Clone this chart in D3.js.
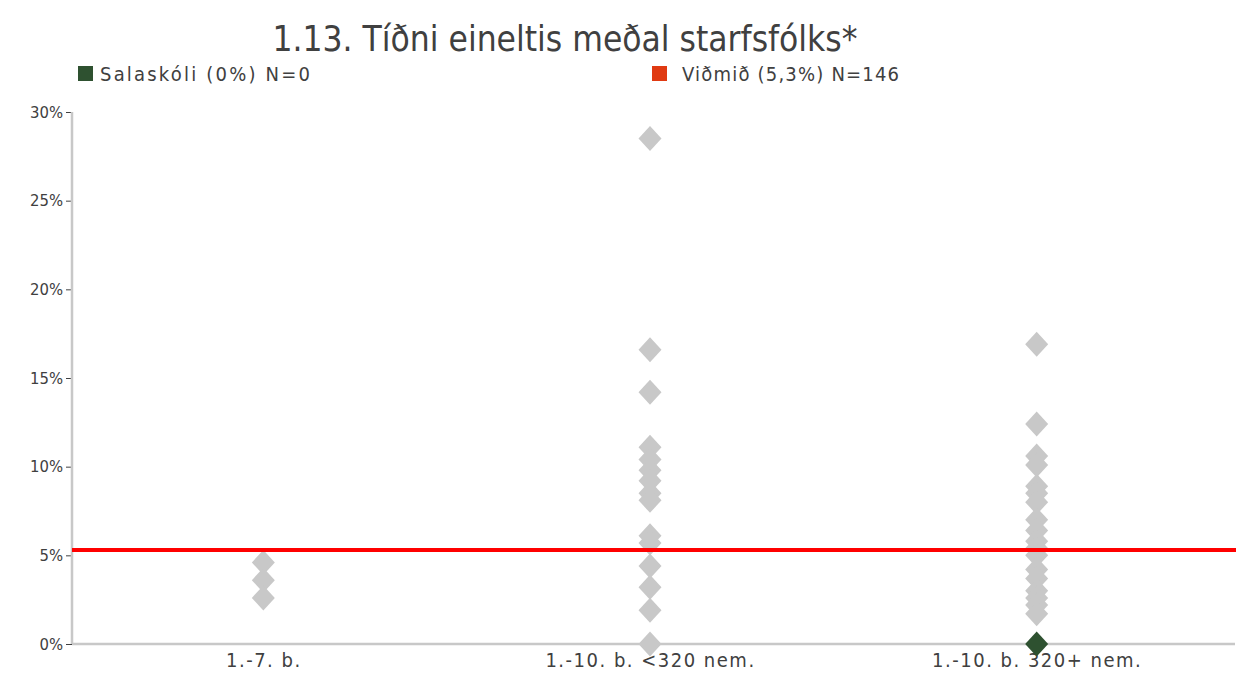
<!DOCTYPE html>
<html><head><meta charset="utf-8">
<script src="https://cdn.jsdelivr.net/npm/d3@7"></script>
<style>
body{margin:0;background:#fff;}
text{font-family:"Liberation Sans Narrow","DejaVu Sans Condensed",Lato,sans-serif;fill:#404040;}
</style></head>
<body><svg id="c" width="1242" height="673"></svg>
<script>
const title = "1.13. Tíðni eineltis meðal starfsfólks*";
const categories = ["1.-7. b.", "1.-10. b. <320 nem.", "1.-10. b. 320+ nem."];
const yTicks = [0, 5, 10, 15, 20, 25, 30];
const schoolsCat1 = [4.6, 3.6, 2.6];
const schoolsCat2 = [28.5, 16.6, 14.2, 11.1, 10.4, 9.8, 9.2, 8.5, 8.1, 6.1, 5.7, 4.4, 3.2, 1.9, 0];
const schoolsCat3 = [16.9, 12.4, 10.6, 10.1, 8.9, 8.5, 8.0, 7.0, 6.4, 5.8, 5.4, 5.0, 4.2, 3.7, 3.0, 2.6, 2.2, 1.7];
const highlightCat = [categories[2]];
const highlightVal = [0];
const benchmark = 5.3;
const legendLabels = ["Salaskóli (0%) N=0", "Viðmið (5,3%) N=146"];
const legendColors = ["#2E5130", "#E03A12"];

const FONT = "'Liberation Sans Narrow','DejaVu Sans Condensed',Lato,sans-serif";
const svg = d3.select("#c");
const x = d3.scalePoint().domain(categories).range([70, 1230]).padding(0.5);
const y = d3.scaleLinear().domain([0, 30]).range([644, 112]);

svg.append("text").attr("x", 565).attr("y", 51).attr("text-anchor", "middle")
  .style("font-size", "35px").text(title);

const lx = [78, 652];
const tx = [100, 682];
const ls = [2.2, 1.2];
legendLabels.forEach((t, i) => {
  svg.append("rect").attr("x", lx[i]).attr("y", 66).attr("width", 15).attr("height", 15).attr("fill", legendColors[i]);
  svg.append("text").attr("x", tx[i]).attr("y", 81).style("font-size", "20px").style("letter-spacing", ls[i] + "px").text(t);
});

// y axis
const yAxis = svg.append("g").attr("transform", "translate(72,0)")
  .call(d3.axisLeft(y).tickValues(yTicks).tickFormat(d => d + "%").tickSize(6).tickPadding(3));
yAxis.select(".domain").remove();
yAxis.selectAll(".tick line").attr("stroke", "#404040");
yAxis.selectAll(".tick text").style("font-size", "16.5px").style("fill", "#404040")
  .style("font-family", FONT);
svg.append("line").attr("x1", 72).attr("x2", 72).attr("y1", y(30)).attr("y2", y(0)).attr("stroke", "#C8C8C8").attr("stroke-width", 2.5);

// x axis
const xAxis = svg.append("g").attr("transform", `translate(0,${y(0)})`)
  .call(d3.axisBottom(x).tickSize(0).tickPadding(9));
xAxis.select(".domain").attr("stroke", "#C8C8C8").attr("stroke-width", 2.5).attr("d", "M72,0H1235");
xAxis.selectAll(".tick text").style("font-size", "20px").style("fill", "#404040")
  .style("font-family", FONT).style("letter-spacing", "1.5px");

const diamond = (cx, cy, w, h) => `M${cx},${cy - h}L${cx + w},${cy}L${cx},${cy + h}L${cx - w},${cy}Z`;

const pts = [];
[schoolsCat1, schoolsCat2, schoolsCat3].forEach((arr, i) => arr.forEach(v => pts.push({c: categories[i], v})));
svg.append("g").selectAll("path").data(pts).join("path")
  .attr("d", d => diamond(x(d.c), y(d.v), 11.5, 12.5)).attr("fill", "#C8C8C8");

// benchmark line
svg.append("line").attr("x1", 72).attr("x2", 1236).attr("y1", y(benchmark)).attr("y2", y(benchmark))
  .attr("stroke", "#FF0000").attr("stroke-width", 4);

svg.append("g").selectAll("path").data(highlightCat.map((c, i) => ({c, v: highlightVal[i]}))).join("path")
  .attr("d", d => diamond(x(d.c), y(d.v), 11.5, 12.5)).attr("fill", "#2E5130");
</script></body></html>
